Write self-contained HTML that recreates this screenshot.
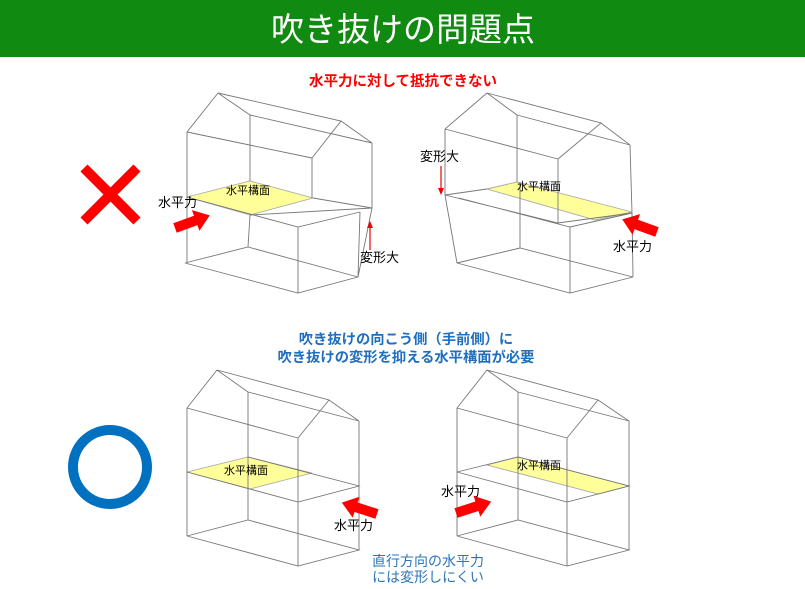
<!DOCTYPE html>
<html><head><meta charset="utf-8"><style>
body{margin:0;background:#fff;width:805px;height:584px;overflow:hidden;font-family:"Liberation Sans","Noto Sans CJK JP",sans-serif}
</style></head><body>
<svg width="805" height="584" viewBox="0 0 805 584" xmlns="http://www.w3.org/2000/svg" font-family="Liberation Sans, Noto Sans CJK JP, sans-serif">
<rect x="0" y="0" width="805" height="57" fill="#118a11"/>
<text x="403" y="41" text-anchor="middle" font-size="33" fill="#fff">吹き抜けの問題点</text>
<text x="403" y="86" text-anchor="middle" font-size="14.5" font-weight="bold" fill="#f00">水平力に対して抵抗できない</text>
<text x="406" y="344" text-anchor="middle" font-size="14.3" font-weight="bold" fill="#1f6fc0">吹き抜けの向こう側（手前側）に</text>
<text x="406" y="362" text-anchor="middle" font-size="14.3" font-weight="bold" fill="#1f6fc0">吹き抜けの変形を抑える水平構面が必要</text>
<text x="428" y="566" text-anchor="middle" font-size="14" fill="#2e75b6">直行方向の水平力</text>
<text x="428" y="582" text-anchor="middle" font-size="14" fill="#2e75b6">には変形しにくい</text>

<g stroke="#f00" stroke-width="10" stroke-linecap="butt"><line x1="84" y1="168" x2="137" y2="221"/><line x1="137" y1="168" x2="84" y2="221"/></g>
<circle cx="110" cy="467" r="37" fill="none" stroke="#0070c0" stroke-width="10"/>

<g fill="none" stroke="#777" stroke-width="0.9">
<polygon points="187,197 250,181 313,198 250,215" fill="#ffff99" stroke="#aaa"/>
<path d="M218,93 L187,132 M218,93 L250,115 M218,93 L341,121 L312,158 M341,121 L372,143 M187,132 L312,158 M250,115 L372,143
M187,132 L187,263 M250,115 L250,181 M312,158 L312,198 M372,143 L372,208
M250,215 L372,208 M313,198 L372,208 M187,197 L298,227 L360,212 M298,227 L298,293 M360,212 L358,277 M372,208 L358,277
M185,263 L298,293 L358,277 M185,263 L248,247 L358,277 M248,247 L250,215"/>
<polygon points="487,189 517,182 632,212 595,220" fill="#ffff99" stroke="#aaa"/>
<path d="M487,93 L445,129 M487,93 L517,115 M487,93 L601,123 L558,159 M601,123 L630,145 M445,129 L558,159 M517,115 L630,145
M445,129 L445,195 M517,115 L517,182 M558,159 L558,223 M630,145 L632,213
M445,195 L487,189 M445,195 L558,223 L632,213 M459,198 L570,227 L632,213 M445,195 L457,263 M570,227 L570,293 M632,213 L633,277 M520,182 L520,248
M457,263 L570,293 L633,277 M457,263 L520,248 L633,277"/>
<polygon points="187,472 248,457 312,473 250,489" fill="#ffff99" stroke="#aaa"/>
<path d="M217,370 L187,408 M217,370 L248,392 M217,370 L329,400 L298,438 M329,400 L359,421 M187,408 L298,438 M248,392 L359,421
M187,408 L187,536 M248,392 L248,520 M298,438 L298,566 M359,421 L359,550
M187,472 L298,502 L359,486 L248,457 M187,536 L298,566 L359,550 L248,520 L187,536"/>
<polygon points="487,465 518,457 629,486 598,494" fill="#ffff99" stroke="#aaa"/>
<path d="M487,370 L457,408 M487,370 L518,392 M487,370 L598,400 L567,438 M598,400 L629,421 M457,408 L567,438 M518,392 L629,421
M457,408 L457,536 M518,392 L518,520 M567,438 L567,566 M629,421 L629,550
M457,472 L567,502 L629,486 L518,457 L457,472 M457,536 L567,566 L629,550 L518,520 L457,536"/>
</g>

<g font-size="11" fill="#000">
<text x="226" y="194">水平構面</text>
<text x="517" y="190">水平構面</text>
<text x="224" y="474">水平構面</text>
<text x="517" y="469">水平構面</text>
</g>
<g font-size="13" fill="#000">
<text x="158" y="207">水平力</text>
<text x="360" y="262">変形大</text>
<text x="420" y="161">変形大</text>
<text x="613" y="251">水平力</text>
<text x="334" y="530">水平力</text>
<text x="441" y="496">水平力</text>
</g>
<g stroke="#e00" stroke-width="1.2" fill="#e00">
<line x1="370" y1="250" x2="370" y2="226"/><polygon points="367,228 373,228 370,221" stroke="none"/>
<line x1="441" y1="166" x2="441" y2="190"/><polygon points="438,188 444,188 441,195" stroke="none"/>
</g>
<g fill="#f00">
<g transform="translate(175,228) rotate(-20)"><polygon points="0,-5 22,-5 22,-11 37,0 22,11 22,5 0,5"/></g>
<g transform="translate(657,232) rotate(-160)"><polygon points="0,-5 22,-5 22,-11 37,0 22,11 22,5 0,5"/></g>
<g transform="translate(377,514) rotate(-162)"><polygon points="0,-5 22,-5 22,-11 37,0 22,11 22,5 0,5"/></g>
<g transform="translate(456,513) rotate(-18)"><polygon points="0,-5 22,-5 22,-11 37,0 22,11 22,5 0,5"/></g>
</g>
</svg>
</body></html>
